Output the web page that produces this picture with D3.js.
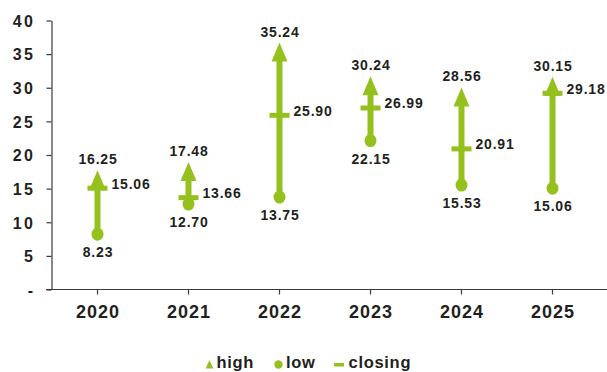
<!DOCTYPE html>
<html>
<head>
<meta charset="utf-8">
<script src="https://cdn.jsdelivr.net/npm/d3@7"></script>
<style>
  html, body { margin: 0; padding: 0; background: #fff; }
  svg { display: block; }
  text { font-family: "Liberation Sans", Arial, Helvetica, sans-serif; fill: #231f20; }
</style>
</head>
<body>
<svg id="chart" width="607" height="372"></svg>
<script>
const years = ["2020", "2021", "2022", "2023", "2024", "2025"];
const high = [16.25, 17.48, 35.24, 30.24, 28.56, 30.15];
const low = [8.23, 12.70, 13.75, 22.15, 15.53, 15.06];
const closing = [15.06, 13.66, 25.90, 26.99, 20.91, 29.18];
const yTicks = [0, 5, 10, 15, 20, 25, 30, 35, 40];
const legendItems = ["high", "low", "closing"];

const green = "#95c11f";
const axisColor = "#3a3a3a";
const svg = d3.select("#chart");

const x = d3.scaleBand().domain(years).range([52, 598]).padding(0);
const y = d3.scaleLinear().domain([0, 40]).range([289.5, 20.5]);
const fmt = d3.format(".2f");

// Y axis
const yAxis = svg.append("g")
  .attr("transform", "translate(51.5,0)")
  .call(d3.axisLeft(y).tickValues(yTicks).tickSize(5).tickSizeOuter(0).tickPadding(13)
    .tickFormat(d => d === 0 ? "-" : d));
yAxis.select(".domain").attr("stroke", axisColor).attr("stroke-width", 1.2);
yAxis.selectAll(".tick line").attr("stroke", axisColor).attr("stroke-width", 1.2);
yAxis.selectAll(".tick text")
  .style("font-size", "16px").style("font-weight", "bold").style("letter-spacing", "2.5px")
  .attr("x", -16).attr("dy", "0.36em").attr("fill", "#231f20");

// X axis
const xAxis = svg.append("g")
  .attr("transform", "translate(0,289.5)")
  .call(d3.axisBottom(x).tickSize(5).tickSizeOuter(0));
xAxis.select(".domain").remove();
xAxis.append("line").attr("x1", 46).attr("x2", 607).attr("y1", 0).attr("y2", 0)
  .attr("stroke", axisColor).attr("stroke-width", 1.2);
xAxis.selectAll(".tick line").attr("stroke", axisColor).attr("stroke-width", 1.2);
xAxis.selectAll(".tick text")
  .style("font-size", "18px").style("font-weight", "bold").style("letter-spacing", "1px")
  .attr("y", 28).attr("dy", 0).attr("dx", "0.5px").attr("fill", "#231f20");

// Data
const data = years.map((yr, i) => ({ yr, high: high[i], low: low[i], close: closing[i] }));
const g = svg.append("g");
const cx = d => x(d.yr) + x.bandwidth() / 2;

g.selectAll("line.range").data(data).join("line")
  .attr("class", "range")
  .attr("x1", cx).attr("x2", cx)
  .attr("y1", d => y(d.low)).attr("y2", d => y(d.high))
  .attr("stroke", green).attr("stroke-width", 6);

g.selectAll("path.tri").data(data).join("path")
  .attr("class", "tri")
  .attr("d", d => {
    const px = cx(d), py = y(d.high);
    return `M${px},${py - 10}L${px + 8},${py + 9}L${px - 8},${py + 9}Z`;
  })
  .attr("fill", green);

g.selectAll("ellipse.low").data(data).join("ellipse")
  .attr("class", "low")
  .attr("cx", cx).attr("cy", d => y(d.low))
  .attr("rx", 6).attr("ry", 6.5)
  .attr("fill", green);

g.selectAll("rect.close").data(data).join("rect")
  .attr("class", "close")
  .attr("x", d => cx(d) - 10).attr("y", d => y(d.close) - 2.5)
  .attr("width", 20).attr("height", 5)
  .attr("fill", green);

const labelStyle = sel => sel.style("font-size", "14px").style("font-weight", "bold")
  .style("letter-spacing", "0.8px").attr("fill", "#2a2a2a");

g.selectAll("text.hl").data(data).join("text")
  .attr("class", "hl")
  .attr("x", d => cx(d) + 0.5).attr("y", d => y(d.high) - 16)
  .attr("text-anchor", "middle")
  .text(d => fmt(d.high)).call(labelStyle);

g.selectAll("text.ll").data(data).join("text")
  .attr("class", "ll")
  .attr("x", d => cx(d) + 0.5).attr("y", d => y(d.low) + 23)
  .attr("text-anchor", "middle")
  .text(d => fmt(d.low)).call(labelStyle);

g.selectAll("text.cl").data(data).join("text")
  .attr("class", "cl")
  .attr("x", d => cx(d) + 14).attr("y", d => y(d.close) + 0.5)
  .attr("text-anchor", "start")
  .text(d => fmt(d.close)).call(labelStyle);

// Legend
const legend = svg.append("g");
const legX = [209.5, 278.5, 339];
const legTextX = [216.5, 286, 348.5];
legend.append("path")
  .attr("d", `M${legX[0]},${360}L${legX[0] + 3.8},${368.5}L${legX[0] - 3.8},${368.5}Z`)
  .attr("fill", green);
legend.append("circle").attr("cx", legX[1]).attr("cy", 364.5).attr("r", 4.2).attr("fill", green);
legend.append("rect").attr("x", legX[2] - 5).attr("y", 363).attr("width", 10).attr("height", 3.5).attr("fill", green);
legend.selectAll("text").data(legendItems).join("text")
  .attr("x", (d, i) => legTextX[i]).attr("y", 367.5)
  .style("font-size", "16.5px").style("font-weight", "bold").style("letter-spacing", "0.7px")
  .attr("fill", "#231f20")
  .text(d => d);
</script>
</body>
</html>
